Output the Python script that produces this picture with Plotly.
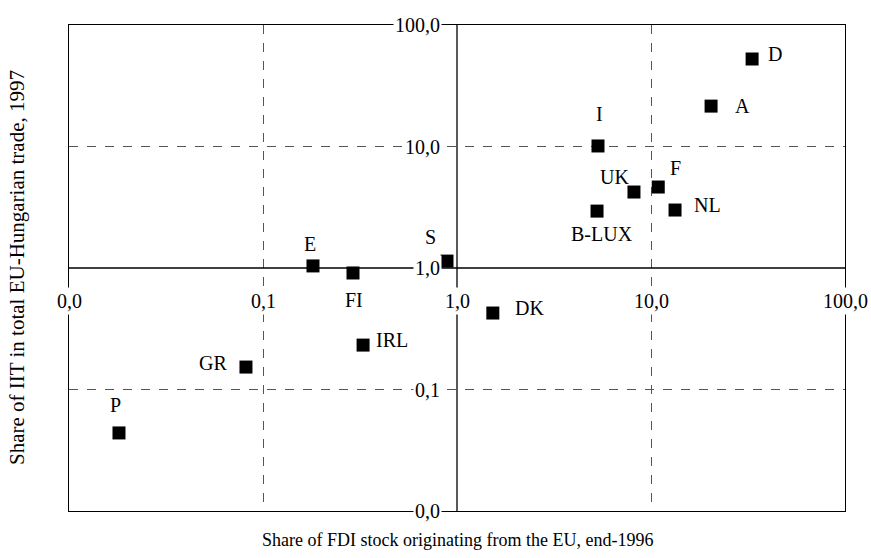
import numpy as np
import plotly.graph_objects as go

# Data
countries = ["D", "A", "I", "UK", "F", "NL", "B-LUX", "S", "E", "FI", "DK", "IRL", "GR", "P"]
fdi_share = [33.2, 20.4, 5.33, 8.17, 10.9, 13.3, 5.27, 0.888, 0.181, 0.291, 1.53, 0.328, 0.0817, 0.0181]
iit_share = [52.5, 21.5, 10.1, 4.22, 4.64, 3.0, 2.94, 1.14, 1.04, 0.91, 0.426, 0.232, 0.153, 0.0439]
x_tick_vals = [0.01, 0.1, 1, 10, 100]
x_tick_text = ["0,0", "0,1", "1,0", "10,0", "100,0"]
y_tick_vals = [100, 10, 1, 0.1, 0.01]
y_tick_text = ["100,0", "10,0", "1,0", "0,1", "0,0"]
x_title = "Share of FDI stock originating from the EU, end-1996"
y_title = "Share of IIT in total EU-Hungarian trade, 1997"

# label offsets in pixels (styling)
label_offsets = {
    "D": (23, 5), "A": (31, 0), "I": (2, 32), "UK": (-19, 15), "F": (17, 19),
    "NL": (32, 5), "B-LUX": (5, -23), "S": (-16, 24), "E": (-3, 22), "FI": (1, -27),
    "DK": (37, 5), "IRL": (29, 5), "GR": (-33, 4), "P": (-3, 28),
}

FONT = "'Liberation Serif', 'Times New Roman', serif"
fig = go.Figure()

# crossing axis lines through 1,0
fig.add_trace(go.Scatter(x=[1, 1], y=[0.01, 100], mode="lines",
                         line=dict(color="black", width=1.3), hoverinfo="skip", showlegend=False))
fig.add_trace(go.Scatter(x=[0.01, 100], y=[1, 1], mode="lines",
                         line=dict(color="black", width=1.3), hoverinfo="skip", showlegend=False))

fig.add_trace(go.Scatter(x=fdi_share, y=iit_share, mode="markers",
                         marker=dict(symbol="square", size=13, color="black", line=dict(width=0)),
                         showlegend=False, cliponaxis=False))

annotations = []
for c, xv, yv in zip(countries, fdi_share, iit_share):
    dx, dy = label_offsets[c]
    annotations.append(dict(x=np.log10(xv), y=np.log10(yv), xref="x", yref="y", text=c,
                            showarrow=False, xshift=dx, yshift=dy,
                            font=dict(family=FONT, size=20, color="black")))
for v, t in zip(x_tick_vals, x_tick_text):
    annotations.append(dict(x=np.log10(v), y=0, xref="x", yref="y", text=t, showarrow=False,
                            yshift=-33, xanchor="center", yanchor="middle", bgcolor="white",
                            borderpad=2, font=dict(family=FONT, size=20, color="black")))
for v, t in zip(y_tick_vals, y_tick_text):
    annotations.append(dict(x=0, y=np.log10(v), xref="x", yref="y", text=t, showarrow=False,
                            xshift=-15, xanchor="right", yanchor="middle", bgcolor="white",
                            borderpad=1, font=dict(family=FONT, size=20, color="black")))
annotations.append(dict(x=0.5, y=-0.06, xref="paper", yref="paper", text=x_title, showarrow=False,
                        xanchor="center", yanchor="middle", font=dict(family=FONT, size=18, color="black")))
annotations.append(dict(x=-0.067, y=0.5, xref="paper", yref="paper", text=y_title, showarrow=False,
                        textangle=-90, xanchor="center", yanchor="middle",
                        font=dict(family=FONT, size=21, color="black")))

axis_common = dict(type="log", range=[-2, 2], showline=True, mirror=True, linecolor="black",
                   linewidth=1, showticklabels=False, ticks="", showgrid=True, gridcolor="#555555",
                   griddash="dash", gridwidth=1, zeroline=False, tickvals=[0.1, 10])
fig.update_layout(
    width=871, height=558,
    margin=dict(l=69, r=26, t=25, b=47),
    plot_bgcolor="white", paper_bgcolor="white",
    xaxis=axis_common, yaxis=axis_common,
    annotations=annotations,
    font=dict(family=FONT, color="black"),
)
fig.write_html("out.html", config={"displayModeBar": False},
               post_script="document.body.style.margin='0';document.body.style.overflow='hidden';")
